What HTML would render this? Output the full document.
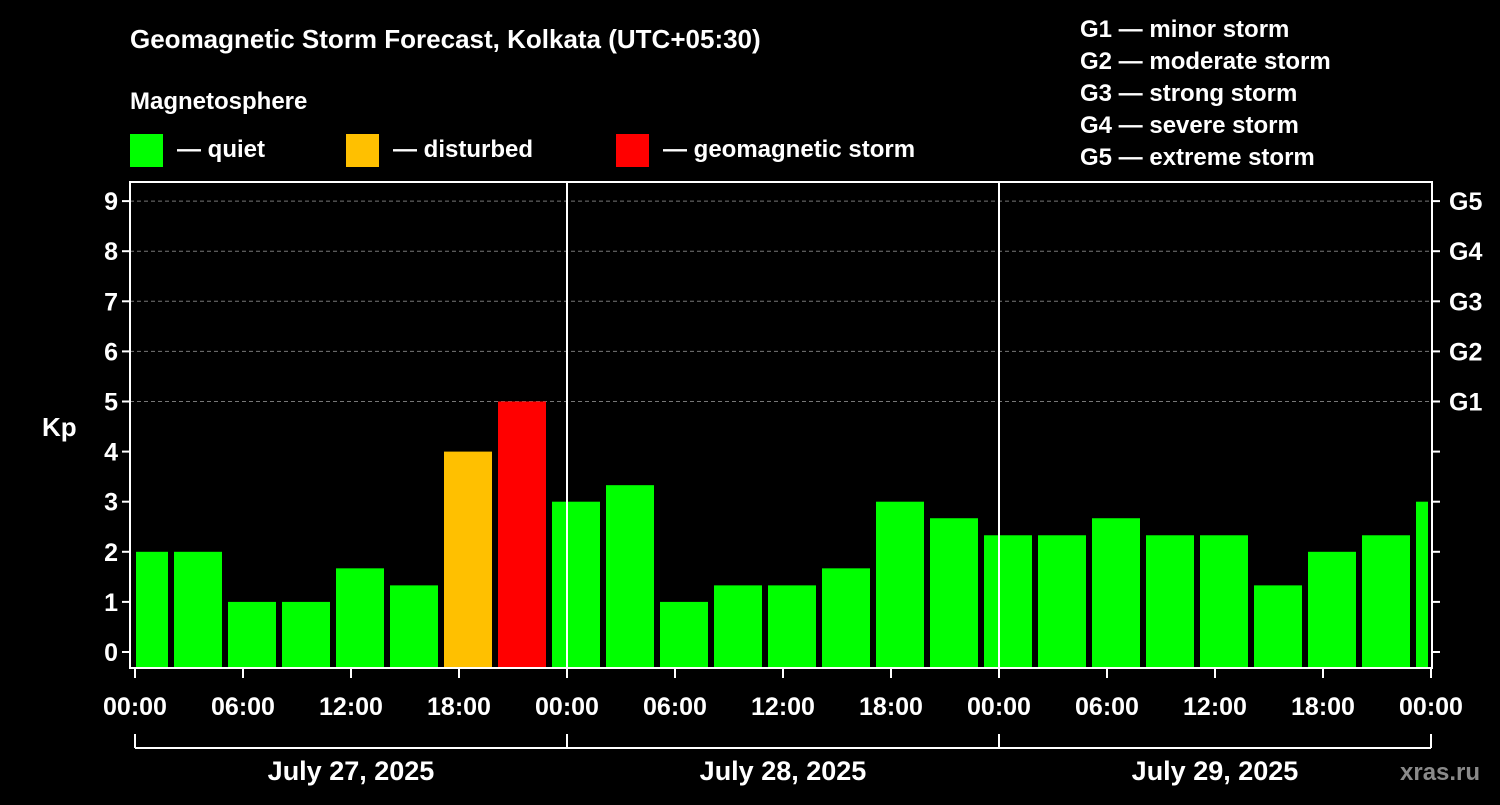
<!DOCTYPE html>
<html><head><meta charset="utf-8"><style>
body{margin:0;background:#000;}
svg text{font-family:"Liberation Sans",Arial,sans-serif;font-weight:bold;fill:#fff;}
</style></head><body>
<svg id="chart" width="1500" height="800" xmlns="http://www.w3.org/2000/svg">
<rect width="1500" height="800" fill="#000"/>
<text x="130" y="48" font-size="26">Geomagnetic Storm Forecast, Kolkata (UTC+05:30)</text>
<text x="130" y="109" font-size="24">Magnetosphere</text>
<g><rect x="130" y="134" width="33" height="33" fill="#00ff00"/><text x="177" y="157" font-size="24">— quiet</text></g>
<g><rect x="346" y="134" width="33" height="33" fill="#ffc000"/><text x="393" y="157" font-size="24">— disturbed</text></g>
<g><rect x="616" y="134" width="33" height="33" fill="#ff0000"/><text x="663" y="157" font-size="24">— geomagnetic storm</text></g>
<g font-size="24">
<text x="1080" y="37">G1 — minor storm</text>
<text x="1080" y="69">G2 — moderate storm</text>
<text x="1080" y="101">G3 — strong storm</text>
<text x="1080" y="133">G4 — severe storm</text>
<text x="1080" y="165">G5 — extreme storm</text>
</g>
<text x="42" y="436" font-size="26">Kp</text>
<text x="1400" y="780" font-size="24" fill="#888" style="fill:#8a8a8a">xras.ru</text>
<g id="grid"></g><g id="bars"></g><g id="axes"></g>
</svg>
<script>
const kpValues=[2,2,1,1,1.67,1.33,4,5,3,3.33,1,1.33,1.33,1.67,3,2.67,2.33,2.33,2.67,2.33,2.33,1.33,2,2.33,3];
const yTicks=[0,1,2,3,4,5,6,7,8,9];
const gLabels=["G1","G2","G3","G4","G5"];
const xTickLabels=["00:00","06:00","12:00","18:00","00:00","06:00","12:00","18:00","00:00","06:00","12:00","18:00","00:00"];
const dayLabels=["July 27, 2025","July 28, 2025","July 29, 2025"];
const firstSlotHour=2.1667; // start of first full 3h slot (local hours)

const NS="http://www.w3.org/2000/svg";
const L=130,R=1432,T=182,B=668,X0=135,X1=1431;
const totalH=72;
const x=h=>X0+(X1-X0)*h/totalH;
const y=v=>652-v*50.1;
function mk(tag,attrs,parent,txt){const e=document.createElementNS(NS,tag);for(const k in attrs)e.setAttribute(k,attrs[k]);if(txt!==undefined)e.textContent=txt;parent.appendChild(e);return e;}
const grid=document.getElementById('grid'),bars=document.getElementById('bars'),axes=document.getElementById('axes');
yTicks.forEach(v=>{if(v>=5){const g=mk('line',{x1:L,x2:R,y1:y(v),y2:y(v),stroke:'#777','stroke-dasharray':'4,3'},grid);

}});
kpValues.forEach((v,i)=>{
 let h0=i===0?0:firstSlotHour+(i-1)*3, h1=i===0?firstSlotHour:firstSlotHour+i*3;
 let xa=x(h0)+(i===0?1:0), xb=Math.min(x(h1)-6,R-4);
 const col=v>=5?'#ff0000':(v>=4?'#ffc000':'#00ff00');
 const r=mk('rect',{x:xa,y:y(v),width:Math.max(0,xb-xa),height:B-y(v),fill:col},bars);
 
 
});
const frame=mk('rect',{x:L,y:T,width:R-L,height:B-T,fill:'none',stroke:'#fff','stroke-width':2},axes);


[24,48].forEach(h=>{const l=mk('line',{x1:x(h),x2:x(h),y1:T,y2:B,stroke:'#fff','stroke-width':2},axes);

});
yTicks.forEach(v=>{
 mk('line',{x1:L-8,x2:L,y1:y(v),y2:y(v),stroke:'#fff','stroke-width':2},axes);
 mk('line',{x1:R,x2:R+8,y1:y(v),y2:y(v),stroke:'#fff','stroke-width':2},axes);
 const t=mk('text',{x:L-12,y:y(v)+9,'font-size':25,'text-anchor':'end'},axes,String(v));
 
 
 if(v>=5){const g=mk('text',{x:R+17,y:y(v)+9,'font-size':25},axes,gLabels[v-5]);
 
 }
});
xTickLabels.forEach((s,i)=>{
 const xx=x(i*6);
 mk('line',{x1:xx,x2:xx,y1:B,y2:B+10,stroke:'#fff','stroke-width':2},axes);
 const t=mk('text',{x:xx,y:715,'font-size':25,'text-anchor':'middle'},axes,s);
 
 
});
mk('line',{x1:X0,x2:X1,y1:748,y2:748,stroke:'#fff','stroke-width':2},axes);
[0,24,48,72].forEach(h=>mk('line',{x1:x(h),x2:x(h),y1:734,y2:748,stroke:'#fff','stroke-width':2},axes));
dayLabels.forEach((s,i)=>{const t=mk('text',{x:x(i*24+12),y:780,'font-size':27,'text-anchor':'middle'},axes,s);

});
</script>
</body></html>
